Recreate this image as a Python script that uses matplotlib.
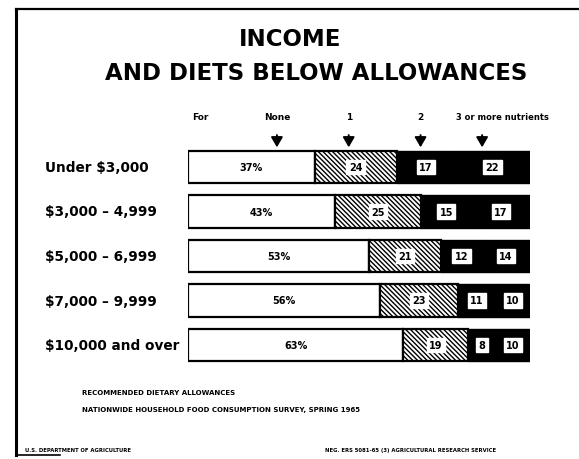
import matplotlib
matplotlib.use("Agg")
import matplotlib.pyplot as plt
import numpy as np

# income groups and share of households (%) by number of nutrients below allowance
income = ["Under $3,000", "$3,000 \u2013 4,999", "$5,000 \u2013 6,999",
          "$7,000 \u2013 9,999", "$10,000 and over"]
none_pct = [37, 43, 53, 56, 63]
one_pct = [24, 25, 21, 23, 19]
two_pct = [17, 15, 12, 11, 8]
three_pct = [22, 17, 14, 10, 10]

header = ["None", "1", "2", "3 or more nutrients"]
header_x = [26, 47, 68, 86]   # header arrow positions along the 0-100 scale

W, H = 579, 460
fig = plt.figure(figsize=(W / 100, H / 100), dpi=100)
fig.patch.set_facecolor("white")

# frame lines (left + top, short bottom stub)
fig.add_artist(plt.Line2D([16 / W, 16 / W], [1 - 10 / H, 1 - 456 / H], color="black", lw=2.2))
fig.add_artist(plt.Line2D([16 / W, 1.0], [1 - 10 / H, 1 - 10 / H], color="black", lw=1.6))
fig.add_artist(plt.Line2D([16 / W, 60 / W], [1 - 456 / H, 1 - 456 / H], color="black", lw=1.2))

fig.text(290 / W, 1 - 40 / H, "INCOME", ha="center", va="center",
         fontsize=16.5, fontweight="bold")
fig.text(316 / W, 1 - 73 / H, "AND DIETS BELOW ALLOWANCES", ha="center", va="center",
         fontsize=16.5, fontweight="bold")

spacing = 44.5
top_px = 168 - 0.6 * spacing
h_px = 5.2 * spacing
ax = fig.add_axes([188 / W, 1 - (top_px + h_px) / H, 342 / W, h_px / H])
ax.set_xlim(0, 100)
ax.set_ylim(4.6, -0.6)
ax.axis("off")

plt.rcParams["hatch.linewidth"] = 1.0
y = np.arange(len(income))
bh = 0.72
none_a = np.array(none_pct)
one_a = np.array(one_pct)
two_a = np.array(two_pct)
three_a = np.array(three_pct)

ax.barh(y, none_a, height=bh, color="white", edgecolor="black", linewidth=1.6)
ax.barh(y, one_a, left=none_a, height=bh, color="white", edgecolor="black",
        hatch="\\" * 7, linewidth=1.6)
ax.barh(y, two_a, left=none_a + one_a, height=bh, color="black", edgecolor="black")
ax.barh(y, three_a, left=none_a + one_a + two_a, height=bh, color="black", edgecolor="black")

box = dict(boxstyle="square,pad=0.25", fc="white", ec="white")
for i in range(len(income)):
    ax.text(none_a[i] / 2, i, f"{none_a[i]}%", ha="center", va="center",
            fontsize=7, fontweight="bold")
    ax.text(none_a[i] + one_a[i] / 2, i, str(one_a[i]), ha="center", va="center",
            fontsize=7, fontweight="bold", bbox=box)
    ax.text(none_a[i] + one_a[i] + two_a[i] / 2, i, str(two_a[i]), ha="center", va="center",
            fontsize=7, fontweight="bold", bbox=box)
    ax.text(100 - three_a[i] / 2, i, str(three_a[i]), ha="center", va="center",
            fontsize=7, fontweight="bold", bbox=box)
    fig.text(45 / W, 1 - (168 + i * spacing) / H, income[i], ha="left", va="center",
             fontsize=9.8, fontweight="bold")

# column headers with arrows
fig.text(192 / W, 1 - 118 / H, "For", ha="left", va="center", fontsize=6.5, fontweight="bold")
for lab, hx in zip(header, header_x):
    xpx = 188 + hx / 100 * 342
    if lab.startswith("3"):
        fig.text((xpx + 20) / W, 1 - 118 / H, lab, ha="center", va="center",
                 fontsize=6, fontweight="bold")
    else:
        fig.text(xpx / W, 1 - 118 / H, lab, ha="center", va="center",
                 fontsize=6.5, fontweight="bold")
    ax.annotate("", xy=(hx, -0.38), xytext=(hx, -0.78), xycoords="data",
                arrowprops=dict(arrowstyle="-|>,head_width=0.35,head_length=0.6",
                                color="black", lw=1.4), annotation_clip=False)

fig.text(82 / W, 1 - 393 / H, "RECOMMENDED DIETARY ALLOWANCES", ha="left", va="center",
         fontsize=5, fontweight="bold")
fig.text(82 / W, 1 - 410 / H, "NATIONWIDE HOUSEHOLD FOOD CONSUMPTION SURVEY, SPRING 1965",
         ha="left", va="center", fontsize=5, fontweight="bold")
fig.text(25 / W, 1 - 451 / H, "U.S. DEPARTMENT OF AGRICULTURE", ha="left", va="center",
         fontsize=3.8, fontweight="bold")
fig.text(325 / W, 1 - 451 / H, "NEG. ERS 5081-65 (3) AGRICULTURAL RESEARCH SERVICE",
         ha="left", va="center", fontsize=3.8, fontweight="bold")

fig.savefig("out.png", dpi=100)
